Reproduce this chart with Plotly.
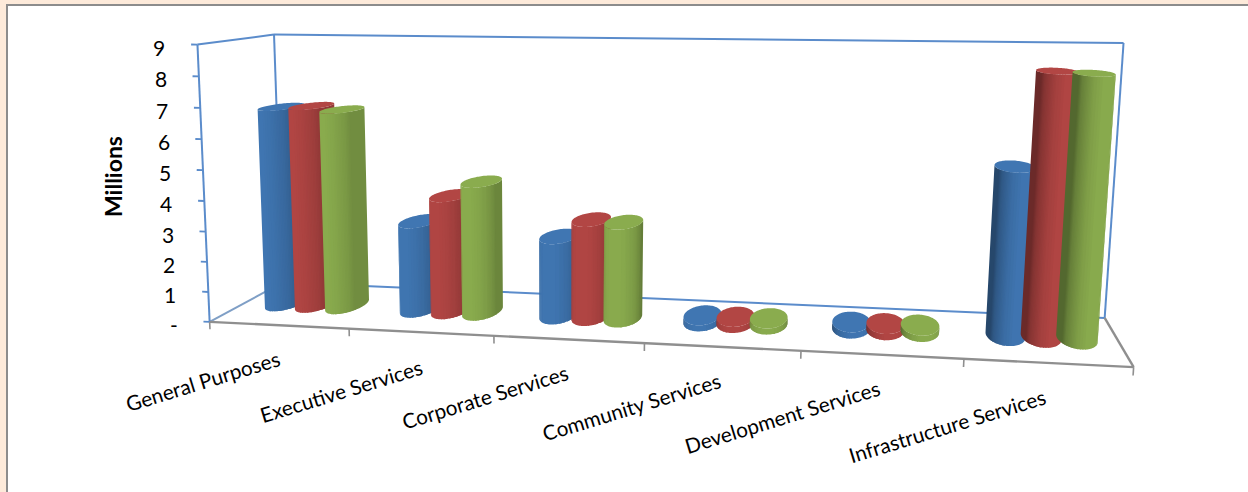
import math

import numpy as np
import plotly.graph_objects as go

# Values in millions, one list per series, in category order
CATEGORIES = ["General Purposes", "Executive Services", "Corporate Services",
              "Community Services", "Development Services", "Infrastructure Services"]
SERIES_BLUE = [6.75, 3.0, 2.65, 0.2, 0.2, 5.35]
SERIES_RED = [6.8, 3.9, 3.25, 0.2, 0.2, 8.3]
SERIES_GREEN = [6.7, 4.4, 3.2, 0.2, 0.2, 8.25]
VALUE_TICKS = [0, 1, 2, 3, 4, 5, 6, 7, 8, 9]
VALUE_TICK_LABELS = ["-", "1", "2", "3", "4", "5", "6", "7", "8", "9"]

WIDTH, HEIGHT = 1248, 492
FONT = "Lato"
BLUE_LINE = "#5b8ccb"
GREY_LINE = "#8f8f8f"

SERIES = [(SERIES_BLUE, -1, (64, 118, 178)), (SERIES_RED, 0, (178, 70, 68)), (SERIES_GREEN, 1, (138, 172, 78))]
SPACING = 0.225
RADIUS_X = 0.125
RADIUS_Y = 0.23
DEPTH_CENTRE = 0.52
SEGMENTS = 96
SHADES = 20

# Perspective camera: box coordinates (category, depth, value) to page pixels.
# The corners of the box count three times as much as the intermediate ticks.
BOX_CORNERS = [
    ((0, 0, 0), (213, 322)), ((6, 0, 0), (1133, 367)), ((0, 1, 0), (278, 282)),
    ((6, 1, 0), (1106, 318)), ((0, 0, 9), (193, 44)), ((0, 1, 9), (278, 35)),
    ((6, 1, 9), (1123, 43)),
]
BOX_TICKS = [
    ((1, 0, 0), (351, 329)), ((2, 0, 0), (494, 336)),
    ((3, 0, 0), (645, 343)), ((4, 0, 0), (800, 351)), ((5, 0, 0), (963, 359)),
    ((0, 0, 5), (205, 171)), ((0, 0, 2), (209, 262)),
]


def fit_camera(anchors):
    rows = []
    for (x, y, z), (u, v) in anchors:
        p = [x / 6, y, z / 9, 1]
        u, v = u / WIDTH, v / HEIGHT
        rows.append(p + [0, 0, 0, 0] + [-u * c for c in p])
        rows.append([0, 0, 0, 0] + p + [-v * c for c in p])
    return np.linalg.svd(np.array(rows, dtype=float))[2][-1].reshape(3, 4)


CAMERA = fit_camera(BOX_CORNERS * 3 + BOX_TICKS)


def project(x, y, z):
    a, b, c = CAMERA @ np.array([x / 6, y, z / 9, 1.0])
    return a / c * WIDTH, b / c * HEIGHT


def rgb_text(rgb, factor=1.0):
    return "rgb({},{},{})".format(*(int(c * factor) for c in rgb))


def segment_trace(points, color, width):
    xy = [project(*p) for p in points]
    return go.Scatter(x=[q[0] for q in xy], y=[q[1] for q in xy], mode="lines",
                      line=dict(color=color, width=width), hoverinfo="skip", showlegend=False)


def polygon_trace(xy, color):
    return go.Scatter(x=[q[0] for q in xy], y=[q[1] for q in xy], mode="lines", fill="toself",
                      line=dict(simplify=False, width=0, color=color), fillcolor=color,
                      hoverinfo="skip", showlegend=False)


def cylinder_traces(values, slot, rgb):
    """Side of each cylinder as shade bands, painted left to right, each overlapping the next."""
    traces = []
    for cat, value in enumerate(values):
        cx = cat + 0.52 + slot * SPACING
        highlight = math.radians(12) * (cat - 2.5)
        # The shaded edge deepens towards the right of the chart
        floor = 0.82 - 0.045 * cat
        # Angles run from the back, round the left, across the front and to the right
        angles = np.linspace(math.pi / 2, 2.5 * math.pi, SEGMENTS + 1)
        rim = [(cx + RADIUS_X * math.cos(t), DEPTH_CENTRE + RADIUS_Y * math.sin(t)) for t in angles]

        bands = []
        for k in range(SEGMENTS):
            (x0, y0), (x1, y1) = rim[k], rim[k + 1]
            quad = [project(x0, y0, 0), project(x1, y1, 0), project(x1, y1, value), project(x0, y0, value)]
            area = sum(quad[i][0] * quad[(i + 1) % 4][1] - quad[(i + 1) % 4][0] * quad[i][1] for i in range(4))
            if area >= 0:
                continue  # strip faces away from the viewer
            mid = 0.5 * (angles[k] + angles[k + 1]) + math.pi / 2
            light = max(0.0, math.cos(mid - highlight)) ** 0.7
            level = min(SHADES - 1, int(light * SHADES))
            if bands and bands[-1][0] == level:
                bands[-1][2] = k + 1
            else:
                bands.append([level, k, k + 1])

        final = bands[-1][2]
        for level, start, stop in bands:
            factor = floor + (1 - floor) * (level + 0.5) / SHADES
            arc = rim[start:min(stop + 1, final) + 1]
            outline = [project(x, y, 0) for x, y in arc] + [project(x, y, value) for x, y in reversed(arc)]
            traces.append(polygon_trace(outline, rgb_text(rgb, factor)))
        traces.append(polygon_trace([project(x, y, value) for x, y in rim], rgb_text(rgb)))
    return traces


fig = go.Figure()

# Back wall and floor outline
for a, b, color, w in [
    ((0, 0, 9), (0, 1, 9), BLUE_LINE, 2), ((0, 1, 9), (6, 1, 9), BLUE_LINE, 2),
    ((0, 1, 9), (0, 1, 0), BLUE_LINE, 2), ((6, 1, 9), (6, 1, 0), BLUE_LINE, 2),
    ((0, 1, 0), (6, 1, 0), BLUE_LINE, 2), ((0, 0, 0), (0, 1, 0), "#7f9fc6", 2),
    ((0, 0, 9), (0, 0, 0), BLUE_LINE, 2), ((6, 0, 0), (6, 1, 0), GREY_LINE, 2.4),
    ((0, 0, 0), (6, 0, 0), GREY_LINE, 2.4),
]:
    fig.add_trace(segment_trace([a, b], color, w))

# Value ticks on the left edge, category ticks under the front edge
for value in VALUE_TICKS:
    fig.add_trace(segment_trace([(0, 0, value), (-0.045, 0, value)], BLUE_LINE, 1.8))
for cat in range(len(CATEGORIES) + 1):
    fig.add_trace(segment_trace([(cat, 0, 0), (cat, 0, -0.25)], GREY_LINE, 1.6))

for values, slot, rgb in SERIES:
    fig.add_traces(cylinder_traces(values, slot, rgb))

annotations = []
for value, label in zip(VALUE_TICKS, VALUE_TICK_LABELS):
    ax, ay = project(0, 0, value)
    annotations.append(dict(x=ax - 30, y=ay + 2.5, text=label, xref="x", yref="y", xanchor="right",
                            yanchor="middle", showarrow=False, font=dict(family=FONT, size=21, color="#000000")))
LABEL_CENTRES = [(203, 381), (341, 391), (485, 397), (631, 407), (782, 417), (947, 426)]
for name, (lx, ly) in zip(CATEGORIES, LABEL_CENTRES):
    annotations.append(dict(x=lx, y=ly, text=name, xref="x", yref="y", textangle=-17, showarrow=False,
                            font=dict(family=FONT, size=20.7, color="#000000")))
annotations.append(dict(x=113, y=177, text="<b>Millions</b>", xref="x", yref="y", textangle=-90, showarrow=False,
                        font=dict(family=FONT, size=23, color="#000000")))

fig.update_layout(
    width=WIDTH, height=HEIGHT, margin=dict(l=0, r=0, t=0, b=0),
    paper_bgcolor="#fdeada", plot_bgcolor="#fdeada", showlegend=False,
    xaxis=dict(range=[0, WIDTH], visible=False, fixedrange=True),
    yaxis=dict(range=[HEIGHT, 0], visible=False, fixedrange=True),
    shapes=[dict(type="rect", x0=7, y0=5, x1=WIDTH + 20, y1=HEIGHT + 20, xref="x", yref="y",
                 fillcolor="#ffffff", line=dict(color="#8c8c8c", width=2), layer="below")],
    annotations=annotations,
)
fig.write_html("out.html")
